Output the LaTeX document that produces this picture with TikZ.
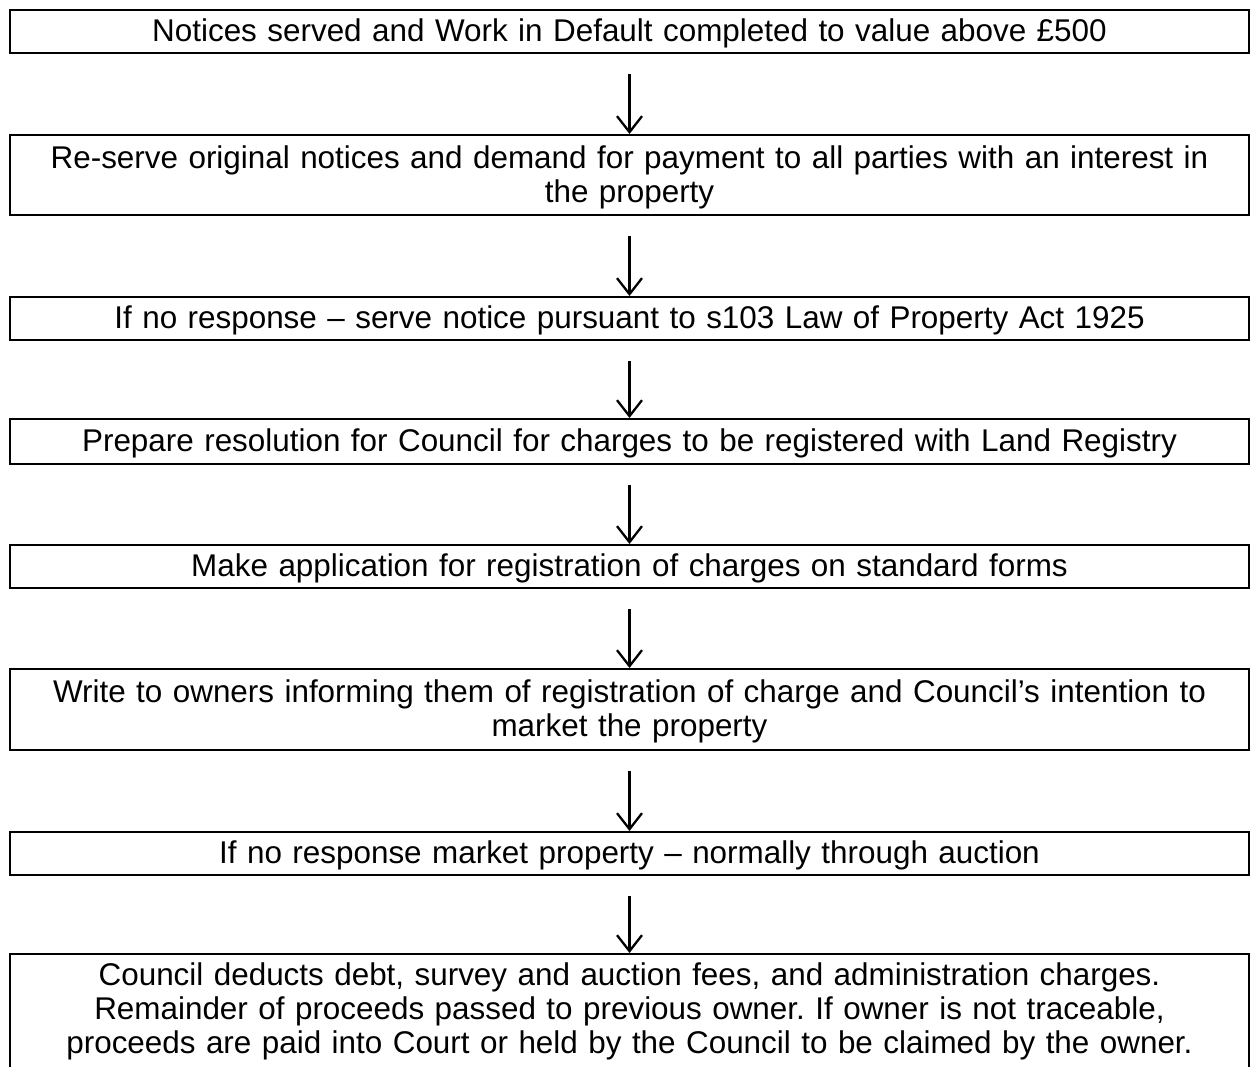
\documentclass[tikz,border=0pt]{standalone}
\usepackage{fontspec}
\setmainfont{Liberation Sans}
\usetikzlibrary{arrows.meta}
\newcommand{\rowstrut}{\rule[-0.14cm]{0pt}{0.68cm}}
\frenchspacing

\begin{document}
\begin{tikzpicture}[x=0.02cm, y=-0.02cm,
    stage/.style={draw, line width=0.046cm, anchor=north, minimum width=24.78cm, minimum height=0.86cm,
      inner xsep=0.1cm, inner ysep=0.09cm, text width=24.5cm, align=center,
      font=\fontsize{17.88pt}{19.35pt}\selectfont,
      execute at begin node={\noindent\rowstrut}, execute at end node=\rowstrut},
    flow/.style={-{Straight Barb[length=0.32cm,width=0.5cm]}, line width=0.046cm, shorten <=0.4cm}]
      \useasboundingbox (0, 0) rectangle (1250, 1066);
      \node[stage] (N) at (629.5, 9) {Notices served and Work in Default completed to value above £500};
      \node[stage, minimum height=1.6cm] (R) at (629.5, 134) {Re-serve original notices and demand for payment to all parties with an interest in\\the property};
      \node[stage, minimum height=0.84cm] (S) at (629.5, 296) {If no response – serve notice pursuant to s103 Law of Property Act 1925};
      \node[stage, minimum height=0.9cm] (P) at (629.5, 418) {Prepare resolution for Council for charges to be registered with Land Registry};
      \node[stage] (A) at (629.5, 544) {Make application for registration of charges on standard forms};
      \node[stage, minimum height=1.62cm] (W) at (629.5, 668) {Write to owners informing them of registration of charge and Council’s intention to\\market the property};
      \node[stage] (M) at (629.5, 831) {If no response market property – normally through auction};
      \node[stage, execute at end node={\rule[-0.3cm]{0pt}{0pt}}] (C) at (629.5, 953) {Council deducts debt, survey and auction fees, and administration charges.\\Remainder of proceeds passed to previous owner. If owner is not traceable,\\proceeds are paid into Court or held by the Council to be claimed by the owner.};
      \draw[flow] (N) -- (R);
      \draw[flow] (R) -- (S);
      \draw[flow] (S) -- (P);
      \draw[flow] (P) -- (A);
      \draw[flow] (A) -- (W);
      \draw[flow] (W) -- (M);
      \draw[flow] (M) -- (C);
    \end{tikzpicture}
\end{document}
